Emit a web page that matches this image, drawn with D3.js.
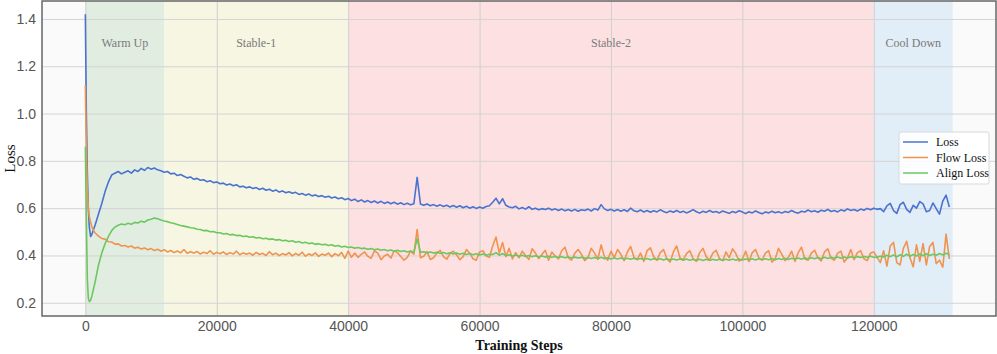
<!DOCTYPE html>
<html>
<head>
<meta charset="utf-8">
<script src="https://cdn.jsdelivr.net/npm/d3@7"></script>
<style>
    body { margin: 0; background: #fff; }
    svg { display: block; font-family: "Liberation Serif", "DejaVu Serif", serif; }
</style>
</head>
<body>
<svg id="chart" width="997" height="354"></svg>
<script>
// Training phases
const phaseNames = ['Warm Up', 'Stable-1', 'Stable-2', 'Cool Down'];
const phaseStarts = [0, 12000, 40000, 120000];
const phaseEnds = [12000, 40000, 120000, 132000];
const phaseColors = ['#e2ede2', '#f6f6e2', '#fde1e2', '#e1edf7'];

const xTicks = [0, 20000, 40000, 60000, 80000, 100000, 120000];
const yTicks = [0.2, 0.4, 0.6, 0.8, 1.0, 1.2, 1.4];

const seriesNames = ['Loss', 'Flow Loss', 'Align Loss'];
const seriesColors = ['#4a72d0', '#ef9450', '#6cc760'];

// steps: a few early points, then every 500 up to 131500
const earlySteps = [0, 150, 300, 450, 600, 800, 1000, 1250];
const steps = earlySteps.concat(d3.range(1500, 132000, 500));

const lossValues = [
    1.42, 1.0, 0.75, 0.6, 0.52, 0.48, 0.49, 0.51,
    0.53, 0.575, 0.62, 0.67, 0.71, 0.74, 0.748, 0.755, 0.745, 0.752,
    0.758, 0.748, 0.762, 0.755, 0.768, 0.76, 0.772, 0.765, 0.77, 0.762,
    0.758, 0.752, 0.755, 0.745, 0.748, 0.738, 0.742, 0.735, 0.728, 0.732,
    0.722, 0.726, 0.718, 0.72, 0.712, 0.716, 0.708, 0.711, 0.703, 0.706,
    0.698, 0.702, 0.695, 0.699, 0.69, 0.693, 0.686, 0.69, 0.683, 0.687,
    0.679, 0.684, 0.676, 0.68, 0.672, 0.677, 0.668, 0.673, 0.665, 0.669,
    0.663, 0.667, 0.658, 0.662, 0.655, 0.66, 0.652, 0.656, 0.649, 0.653,
    0.646, 0.65, 0.643, 0.647, 0.64, 0.644, 0.636, 0.641, 0.632, 0.638,
    0.628, 0.635, 0.626, 0.632, 0.624, 0.63, 0.622, 0.629, 0.62, 0.626,
    0.619, 0.625, 0.617, 0.623, 0.615, 0.621, 0.614, 0.619, 0.73, 0.618,
    0.612, 0.618, 0.61, 0.615, 0.608, 0.614, 0.607, 0.612, 0.605, 0.611,
    0.604, 0.61, 0.602, 0.608, 0.6, 0.606, 0.599, 0.605, 0.6, 0.607,
    0.61, 0.625, 0.642, 0.618, 0.64, 0.612, 0.605, 0.602, 0.608, 0.597,
    0.603, 0.596, 0.606, 0.595, 0.6, 0.593, 0.598, 0.594, 0.6, 0.592,
    0.597, 0.59, 0.596, 0.589, 0.594, 0.588, 0.595, 0.587, 0.593, 0.59,
    0.596, 0.588, 0.598, 0.592, 0.615, 0.597, 0.59, 0.595, 0.588, 0.594,
    0.587, 0.593, 0.586, 0.6, 0.589, 0.585, 0.592, 0.584, 0.59, 0.583,
    0.589, 0.584, 0.593, 0.586, 0.581, 0.588, 0.583, 0.59, 0.582, 0.587,
    0.58, 0.586, 0.594, 0.585, 0.579, 0.587, 0.582, 0.59, 0.583, 0.586,
    0.58, 0.588, 0.583, 0.578, 0.586, 0.581, 0.589, 0.584, 0.577, 0.585,
    0.58, 0.588, 0.582, 0.576, 0.584, 0.58, 0.587, 0.581, 0.585, 0.579,
    0.586, 0.582, 0.59, 0.583, 0.579, 0.587, 0.584, 0.592, 0.585, 0.589,
    0.583, 0.591, 0.587, 0.595, 0.586, 0.59, 0.584, 0.593, 0.588, 0.597,
    0.59, 0.594, 0.588, 0.596, 0.591, 0.599, 0.593, 0.6, 0.595, 0.598,
    0.585, 0.61, 0.62, 0.59, 0.578, 0.615, 0.625, 0.595, 0.582, 0.612,
    0.6, 0.628, 0.618, 0.585, 0.59, 0.622, 0.598, 0.575, 0.63, 0.655,
    0.605
];

const flowValues = [
    1.12, 0.85, 0.68, 0.6, 0.565, 0.54, 0.52, 0.505,
    0.495, 0.482, 0.472, 0.469, 0.458, 0.457, 0.448, 0.449, 0.44, 0.442,
    0.436, 0.44, 0.431, 0.435, 0.427, 0.432, 0.424, 0.429, 0.421, 0.426,
    0.418, 0.424, 0.415, 0.421, 0.412, 0.419, 0.411, 0.425, 0.409, 0.416,
    0.41, 0.417, 0.406, 0.414, 0.408, 0.42, 0.405, 0.413, 0.407, 0.415,
    0.404, 0.412, 0.406, 0.418, 0.403, 0.411, 0.405, 0.41, 0.401, 0.413,
    0.404, 0.409, 0.4, 0.416, 0.403, 0.41, 0.399, 0.408, 0.402, 0.412,
    0.398, 0.409, 0.401, 0.414, 0.397, 0.407, 0.4, 0.411, 0.396, 0.406,
    0.401, 0.41, 0.395, 0.408, 0.399, 0.413, 0.388, 0.418, 0.392, 0.41,
    0.392, 0.405, 0.415, 0.396, 0.388, 0.42, 0.41, 0.382, 0.398, 0.405,
    0.389, 0.42, 0.412, 0.396, 0.38, 0.392, 0.418, 0.405, 0.51, 0.39,
    0.397, 0.416, 0.383, 0.39, 0.41, 0.422, 0.395, 0.384, 0.408, 0.418,
    0.403, 0.382, 0.395, 0.425, 0.409, 0.386, 0.38, 0.415, 0.42, 0.398,
    0.392, 0.44, 0.478, 0.41, 0.455, 0.395, 0.43, 0.385, 0.412, 0.39,
    0.418, 0.4, 0.383, 0.428, 0.41, 0.387, 0.405, 0.422, 0.38, 0.414,
    0.398, 0.385, 0.42, 0.435, 0.39, 0.38, 0.41, 0.425, 0.405, 0.378,
    0.392, 0.43, 0.41, 0.384, 0.445, 0.395, 0.38, 0.418, 0.39, 0.425,
    0.405, 0.378, 0.415, 0.438, 0.392, 0.383, 0.41, 0.375, 0.42, 0.432,
    0.395, 0.38, 0.412, 0.425, 0.386, 0.372, 0.415, 0.44, 0.39, 0.382,
    0.408, 0.42, 0.386, 0.375, 0.412, 0.43, 0.395, 0.38, 0.41, 0.422,
    0.388, 0.378, 0.415, 0.39, 0.428, 0.408, 0.376, 0.385, 0.418, 0.374,
    0.412, 0.425, 0.39, 0.38, 0.41, 0.42, 0.372, 0.386, 0.43, 0.405,
    0.378, 0.392, 0.418, 0.375, 0.412, 0.435, 0.385, 0.38, 0.41, 0.422,
    0.39, 0.377, 0.415, 0.428, 0.388, 0.38, 0.41, 0.418, 0.372, 0.39,
    0.425, 0.382, 0.412, 0.42, 0.386, 0.378, 0.41, 0.415, 0.392, 0.37,
    0.42, 0.355, 0.44, 0.455, 0.37, 0.36, 0.43, 0.46, 0.39, 0.352,
    0.445, 0.375, 0.45, 0.36, 0.438, 0.455, 0.365, 0.38, 0.35, 0.49,
    0.385
];

const alignValues = [
    0.86, 0.55, 0.3, 0.22, 0.205, 0.21, 0.23, 0.26,
    0.29, 0.36, 0.41, 0.45, 0.48, 0.505, 0.52, 0.528, 0.533, 0.53,
    0.536, 0.532, 0.54, 0.537, 0.545, 0.541, 0.55, 0.553, 0.558, 0.555,
    0.55, 0.546, 0.543, 0.538, 0.535, 0.531, 0.527, 0.524, 0.521, 0.517,
    0.516, 0.511, 0.51, 0.505, 0.506, 0.5, 0.501, 0.496, 0.496, 0.491,
    0.493, 0.487, 0.489, 0.484, 0.485, 0.48, 0.482, 0.477, 0.479, 0.474,
    0.476, 0.471, 0.473, 0.468, 0.47, 0.465, 0.467, 0.462, 0.464, 0.459,
    0.462, 0.456, 0.459, 0.453, 0.456, 0.45, 0.453, 0.447, 0.45, 0.445,
    0.447, 0.442, 0.445, 0.439, 0.442, 0.436, 0.439, 0.434, 0.436, 0.431,
    0.434, 0.429, 0.431, 0.426, 0.429, 0.424, 0.427, 0.422, 0.425, 0.42,
    0.423, 0.418, 0.422, 0.417, 0.42, 0.415, 0.419, 0.414, 0.47, 0.413,
    0.416, 0.411, 0.415, 0.41, 0.413, 0.409, 0.412, 0.407, 0.411, 0.406,
    0.41, 0.405, 0.409, 0.404, 0.408, 0.403, 0.407, 0.402, 0.406, 0.401,
    0.405, 0.404, 0.412, 0.401, 0.408, 0.399, 0.403, 0.398, 0.402, 0.397,
    0.401, 0.396, 0.4, 0.395, 0.399, 0.394, 0.398, 0.393, 0.397, 0.392,
    0.396, 0.391, 0.395, 0.39, 0.394, 0.389, 0.393, 0.389, 0.392, 0.388,
    0.391, 0.387, 0.391, 0.386, 0.392, 0.386, 0.39, 0.385, 0.389, 0.385,
    0.389, 0.384, 0.388, 0.384, 0.388, 0.383, 0.387, 0.383, 0.387, 0.382,
    0.386, 0.382, 0.386, 0.381, 0.386, 0.381, 0.385, 0.381, 0.385, 0.38,
    0.385, 0.38, 0.384, 0.38, 0.384, 0.379, 0.384, 0.379, 0.384, 0.38,
    0.384, 0.38, 0.384, 0.38, 0.385, 0.38, 0.385, 0.381, 0.385, 0.381,
    0.386, 0.381, 0.386, 0.382, 0.386, 0.382, 0.387, 0.382, 0.387, 0.383,
    0.388, 0.383, 0.388, 0.384, 0.389, 0.384, 0.39, 0.385, 0.39, 0.386,
    0.391, 0.386, 0.392, 0.387, 0.392, 0.388, 0.393, 0.388, 0.394, 0.389,
    0.395, 0.39, 0.395, 0.391, 0.396, 0.392, 0.397, 0.392, 0.393, 0.397,
    0.394, 0.401, 0.395, 0.402, 0.394, 0.403, 0.396, 0.405, 0.397, 0.404,
    0.398, 0.406, 0.399, 0.407, 0.4, 0.405, 0.401, 0.408, 0.402, 0.409,
    0.404
];

const allValues = [lossValues, flowValues, alignValues];

// Layout

const svg = d3.select('#chart');
const plot = { left: 42, right: 996, top: 1, bottom: 316 };

const x = d3.scaleLinear().domain([-6600, 138600]).range([plot.left, plot.right]);
const y = d3.scaleLinear().domain([0.144, 1.476]).range([plot.bottom, plot.top]);

svg.append('rect')
    .attr('x', plot.left).attr('y', plot.top)
    .attr('width', plot.right - plot.left).attr('height', plot.bottom - plot.top)
    .attr('fill', '#fafafa');

// Phase bands
svg.selectAll('rect.phase')
    .data(phaseNames)
    .join('rect')
    .attr('class', 'phase')
    .attr('x', (d, i) => x(phaseStarts[i]))
    .attr('y', plot.top)
    .attr('width', (d, i) => x(phaseEnds[i]) - x(phaseStarts[i]))
    .attr('height', plot.bottom - plot.top)
    .attr('fill', (d, i) => phaseColors[i]);

// Grid
svg.append('g')
    .attr('transform', `translate(0,${plot.bottom})`)
    .call(d3.axisBottom(x).tickValues(xTicks).tickSize(-(plot.bottom - plot.top)).tickFormat(''))
    .call(g => g.select('.domain').remove())
    .call(g => g.selectAll('line').attr('stroke', '#cfcfcf').attr('stroke-width', 1));

svg.append('g')
    .attr('transform', `translate(${plot.left},0)`)
    .call(d3.axisLeft(y).tickValues(yTicks).tickSize(-(plot.right - plot.left)).tickFormat(''))
    .call(g => g.select('.domain').remove())
    .call(g => g.selectAll('line').attr('stroke', '#d4d4d4').attr('stroke-width', 1));

// Phase labels
svg.selectAll('text.phase-label')
    .data(phaseNames)
    .join('text')
    .attr('class', 'phase-label')
    .attr('x', (d, i) => (x(phaseStarts[i]) + x(phaseEnds[i])) / 2)
    .attr('y', 47)
    .attr('text-anchor', 'middle')
    .attr('font-size', 12)
    .attr('fill', '#7a7a7a')
    .text(d => d);

// Lines
const line = d3.line()
    .x((d, i) => x(steps[i]))
    .y(d => y(d));

svg.selectAll('path.series')
    .data(allValues)
    .join('path')
    .attr('class', 'series')
    .attr('d', line)
    .attr('fill', 'none')
    .attr('stroke', (d, i) => seriesColors[i])
    .attr('stroke-width', 1.6)
    .attr('stroke-linejoin', 'round');

// Frame
svg.append('rect')
    .attr('x', plot.left).attr('y', plot.top)
    .attr('width', plot.right - plot.left).attr('height', plot.bottom - plot.top)
    .attr('fill', 'none')
    .attr('stroke', '#666')
    .attr('stroke-width', 1.5);

// Tick labels
svg.append('g')
    .attr('transform', `translate(0,${plot.bottom})`)
    .call(d3.axisBottom(x).tickValues(xTicks).tickSize(0).tickPadding(5).tickFormat(d3.format('d')))
    .call(g => g.select('.domain').remove())
    .call(g => g.selectAll('text').attr('fill', '#555').attr('font-size', 14).attr('font-family', null));

svg.append('g')
    .attr('transform', `translate(${plot.left},0)`)
    .call(d3.axisLeft(y).tickValues(yTicks).tickSize(0).tickPadding(6).tickFormat(d3.format('.1f')))
    .call(g => g.select('.domain').remove())
    .call(g => g.selectAll('text').attr('fill', '#555').attr('font-size', 14).attr('font-family', null));

// Axis titles
svg.append('text')
    .attr('x', (plot.left + plot.right) / 2)
    .attr('y', 350)
    .attr('text-anchor', 'middle')
    .attr('font-size', 14)
    .attr('font-weight', 'bold')
    .attr('fill', '#111')
    .text('Training Steps');

svg.append('text')
    .attr('transform', `translate(15,${(plot.top + plot.bottom) / 2}) rotate(-90)`)
    .attr('text-anchor', 'middle')
    .attr('font-size', 15)
    .attr('fill', '#111')
    .text('Loss');

// Legend
const legend = svg.append('g').attr('transform', 'translate(899,132)');

legend.append('rect')
    .attr('width', 90).attr('height', 52)
    .attr('rx', 2)
    .attr('fill', '#fff').attr('fill-opacity', 0.85)
    .attr('stroke', '#d8d8d8');

const entries = legend.selectAll('g.entry')
    .data(seriesNames)
    .join('g')
    .attr('class', 'entry')
    .attr('transform', (d, i) => `translate(0,${10 + i * 15.5})`);

entries.append('line')
    .attr('x1', 4).attr('x2', 29)
    .attr('stroke', (d, i) => seriesColors[i])
    .attr('stroke-width', 1.5);

entries.append('text')
    .attr('x', 37).attr('y', 4)
    .attr('font-size', 12)
    .attr('fill', '#111')
    .text(d => d);
</script>
</body>
</html>
